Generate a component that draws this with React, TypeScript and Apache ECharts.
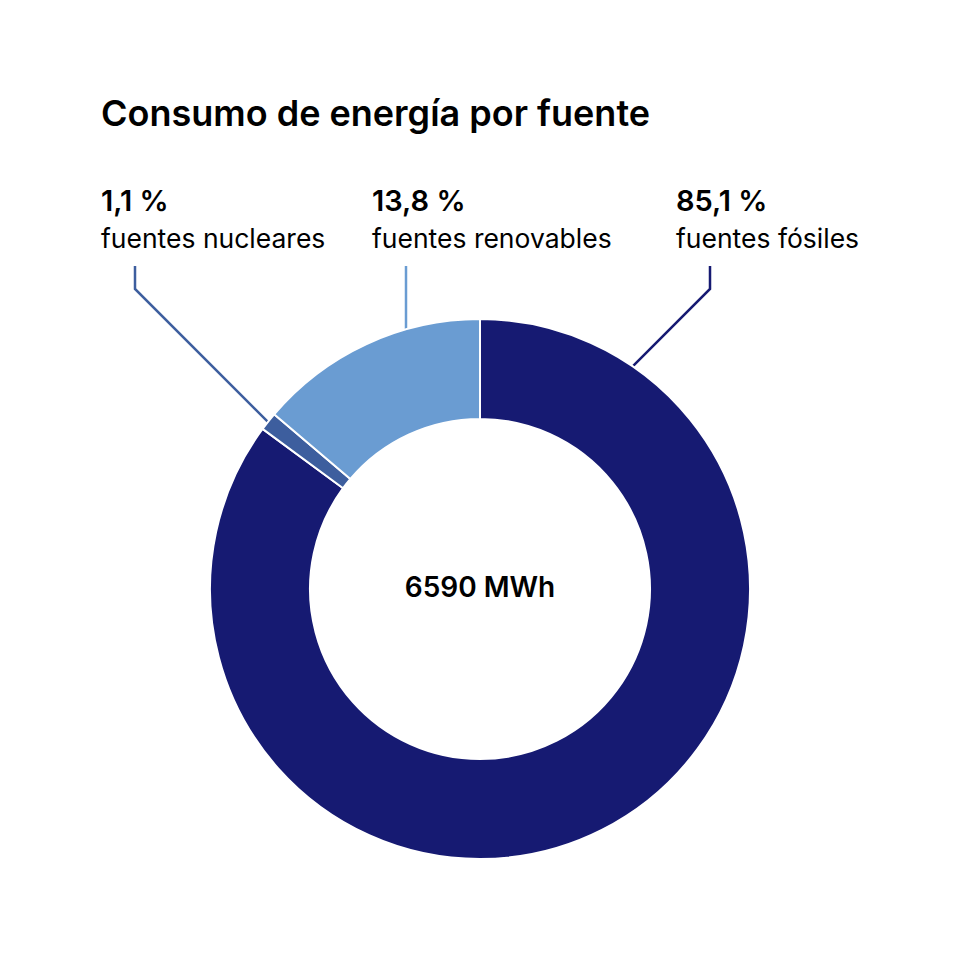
import { useEffect, useRef } from "react"
import * as echarts from "echarts"

// datos
const sources = ["fuentes fósiles", "fuentes nucleares", "fuentes renovables"]
const shares = [85.1, 1.1, 13.8]
const colors = ["#161a72", "#3d5e9e", "#6a9cd2"]
const totalMWh = 6590

// posición de las etiquetas (x izquierda) y dirección de la línea guía
const labelX = [676, 101, 372]
const leaderDir = [-1, 1, 0]

const CX = 480
const CY = 589
const R_OUT = 270
const R_IN = 170
const LABEL_TOP = 182
const ELBOW_TOP = 266
const ELBOW_Y = 289

const fmt = (v: number) => v.toFixed(1).replace(".", ",") + " %"

function leaderPoints(i: number): number[][] {
  const ex = labelX[i] + 34
  const d = leaderDir[i]
  // intersección de la línea (ex, ELBOW_Y) + t*(d, 1) con el anillo exterior
  const px = ex - CX
  const py = ELBOW_Y - CY
  const a = d * d + 1
  const b = 2 * (px * d + py)
  const c = px * px + py * py - R_OUT * R_OUT
  const t = (-b - Math.sqrt(b * b - 4 * a * c)) / (2 * a)
  return [
    [ex + d * t, ELBOW_Y + t],
    [ex, ELBOW_Y],
    [ex, ELBOW_TOP],
  ]
}

export default function App() {
  const chartRef = useRef<HTMLDivElement>(null)

  useEffect(() => {
    if (!chartRef.current) return
    const chart = echarts.init(chartRef.current, null, { renderer: "svg" })

    const option = {
      animation: false,
      title: [
        {
          text: "Consumo de energía por fuente",
          left: 101,
          top: 95,
          padding: 0,
          textStyle: {
            fontFamily: "Inter",
            fontSize: 36,
            fontWeight: 600,
            color: "#000",
          },
        },
        {
          text: `${totalMWh} MWh`,
          left: "center",
          top: 573,
          padding: 0,
          textStyle: {
            fontFamily: "Inter",
            fontSize: 28,
            fontWeight: 600,
            color: "#000",
          },
        },
      ],
      series: [
        {
          type: "pie",
          center: [CX, CY],
          radius: [R_IN, R_OUT],
          startAngle: 90,
          clockwise: true,
          silent: true,
          emphasis: { disabled: true },
          itemStyle: { borderColor: "#fff", borderWidth: 2 },
          label: {
            show: true,
            position: "outside",
            overflow: "none",
            width: 400,
            formatter: (p: any) => `{v|${fmt(p.value)}}\n{n|${p.name}}`,
            rich: {
              v: {
                fontFamily: "Inter",
                fontSize: 29,
                fontWeight: 600,
                color: "#000",
                lineHeight: 37,
              },
              n: {
                fontFamily: "Inter",
                fontSize: 26.5,
                fontWeight: 400,
                color: "#000",
                lineHeight: 37,
              },
            },
          },
          labelLine: {
            show: true,
            lineStyle: { width: 2.5 },
          },
          labelLayout: (params: any) => {
            const i = params.dataIndex
            return {
              x: labelX[i],
              y: LABEL_TOP,
              align: "left",
              verticalAlign: "top",
              labelLinePoints: leaderPoints(i),
            }
          },
          data: sources.map((name, i) => ({
            name,
            value: shares[i],
            itemStyle: { color: colors[i] },
            labelLine: { lineStyle: { color: colors[i] } },
          })),
        },
      ],
    }

    chart.setOption(option)
    return () => {
      chart.dispose()
    }
  }, [])

  return (
    <div
      ref={chartRef}
      style={{ position: "absolute", left: 0, top: 0, width: 960, height: 960, background: "#fff" }}
    />
  )
}
